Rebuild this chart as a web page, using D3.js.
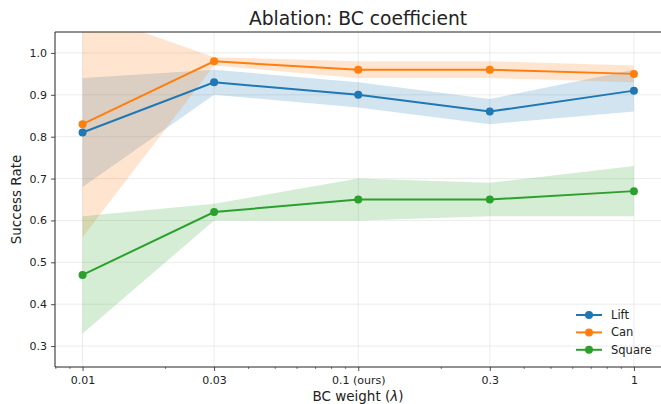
<!DOCTYPE html>
<html>
<head>
<meta charset="utf-8">
<script src="https://cdn.jsdelivr.net/npm/d3@7"></script>
<style>
  body { margin: 0; background: #fff; }
  text { font-family: "DejaVu Sans", sans-serif; fill: #222; }
</style>
</head>
<body>
<div id="main"></div>
<script>
// chart data
var weights = [0.01, 0.03, 0.1, 0.3, 1];
var tickLabels = ["0.01", "0.03", "0.1 (ours)", "0.3", "1"];
var seriesNames = ["Lift", "Can", "Square"];
var liftMean = [0.81, 0.93, 0.90, 0.86, 0.91];
var liftLow  = [0.68, 0.90, 0.87, 0.83, 0.86];
var liftHigh = [0.94, 0.96, 0.93, 0.89, 0.96];
var canMean  = [0.83, 0.98, 0.96, 0.96, 0.95];
var canLow   = [0.56, 0.97, 0.94, 0.94, 0.93];
var canHigh  = [1.10, 0.99, 0.98, 0.98, 0.97];
var squareMean = [0.47, 0.62, 0.65, 0.65, 0.67];
var squareLow  = [0.33, 0.60, 0.60, 0.61, 0.61];
var squareHigh = [0.61, 0.64, 0.70, 0.69, 0.73];
var yTicks = [0.3, 0.4, 0.5, 0.6, 0.7, 0.8, 0.9, 1.0];

var ctx = {
    w: 661,
    h: 404,
    left: 55,
    top: 32,
    bottom: 367,
    colors: ["#1f77b4", "#ff7f0e", "#2ca02c"],
};

var createChart = function(svg){
    var series = [
        {name: seriesNames[0], mean: liftMean, low: liftLow, high: liftHigh},
        {name: seriesNames[1], mean: canMean, low: canLow, high: canHigh},
        {name: seriesNames[2], mean: squareMean, low: squareLow, high: squareHigh},
    ];

    // log x with 5% margins like matplotlib (-2.1 .. 0.1 in decades)
    var x = d3.scaleLog()
              .domain([Math.pow(10, -2.1), Math.pow(10, 0.1)])
              .range([ctx.left, 661.5]);
    var y = d3.scaleLinear()
              .domain([0.25, 1.05])
              .range([ctx.bottom, ctx.top]);

    svg.append("clipPath").attr("id", "plot-clip")
       .append("rect")
       .attr("x", ctx.left).attr("y", ctx.top)
       .attr("width", ctx.w - ctx.left).attr("height", ctx.bottom - ctx.top);

    // grid
    var grid = svg.append("g").attr("stroke", "#b0b0b0").attr("stroke-opacity", 0.3).attr("stroke-width", 0.8);
    grid.selectAll("line.gx").data(weights).enter().append("line")
        .attr("x1", function(d){ return x(d); }).attr("x2", function(d){ return x(d); })
        .attr("y1", ctx.top).attr("y2", ctx.bottom);
    grid.selectAll("line.gy").data(yTicks).enter().append("line")
        .attr("x1", ctx.left).attr("x2", ctx.w)
        .attr("y1", function(d){ return y(d); }).attr("y2", function(d){ return y(d); });

    var plot = svg.append("g").attr("clip-path", "url(#plot-clip)");

    // bands first
    var area = d3.area()
                 .x(function(d){ return x(d.w); })
                 .y0(function(d){ return y(d.lo); })
                 .y1(function(d){ return y(d.hi); });
    series.forEach(function(s, i){
        var pts = weights.map(function(w, j){ return {w: w, lo: s.low[j], hi: s.high[j]}; });
        plot.append("path").datum(pts)
            .attr("d", area)
            .attr("fill", ctx.colors[i])
            .attr("fill-opacity", 0.2);
    });

    // lines + markers
    var line = d3.line()
                 .x(function(d){ return x(d.w); })
                 .y(function(d){ return y(d.v); });
    series.forEach(function(s, i){
        var pts = weights.map(function(w, j){ return {w: w, v: s.mean[j]}; });
        plot.append("path").datum(pts)
            .attr("d", line)
            .attr("fill", "none")
            .attr("stroke", ctx.colors[i])
            .attr("stroke-width", 2);
        plot.selectAll("circle.s" + i).data(pts).enter().append("circle")
            .attr("cx", function(d){ return x(d.w); })
            .attr("cy", function(d){ return y(d.v); })
            .attr("r", 4)
            .attr("fill", ctx.colors[i]);
    });

    // axes
    var xAxis = d3.axisBottom(x)
                  .tickValues(weights)
                  .tickFormat(function(d, i){ return tickLabels[i]; })
                  .tickSize(4).tickPadding(5);
    var gx = svg.append("g").attr("transform", "translate(0," + ctx.bottom + ")").call(xAxis);
    gx.select(".domain").remove();
    gx.selectAll("text").style("font-size", "11px").attr("fill", "#222");
    gx.selectAll("line").attr("stroke", "#222").attr("stroke-width", 0.8);

    // minor ticks of the log axis
    var minor = [0.008, 0.009, 0.02, 0.04, 0.05, 0.06, 0.07, 0.08, 0.09,
                 0.2, 0.4, 0.5, 0.6, 0.7, 0.8, 0.9];
    svg.append("g").selectAll("line").data(minor).enter().append("line")
       .attr("x1", function(d){ return x(d); }).attr("x2", function(d){ return x(d); })
       .attr("y1", ctx.bottom).attr("y2", ctx.bottom + 2)
       .attr("stroke", "#222").attr("stroke-width", 0.6);

    var yAxis = d3.axisLeft(y)
                  .tickValues(yTicks)
                  .tickFormat(d3.format(".1f"))
                  .tickSize(4).tickPadding(4);
    var gy = svg.append("g").attr("transform", "translate(" + ctx.left + ",0)").call(yAxis);
    gy.select(".domain").remove();
    gy.selectAll("text").style("font-size", "11px").attr("fill", "#222");
    gy.selectAll("line").attr("stroke", "#222").attr("stroke-width", 0.8);

    // spines: left, top, bottom (right edge falls outside the window)
    svg.append("path")
       .attr("d", "M" + ctx.w + "," + ctx.top + "H" + ctx.left + "V" + ctx.bottom + "H" + ctx.w)
       .attr("fill", "none").attr("stroke", "#222").attr("stroke-width", 1);

    // title & labels
    svg.append("text")
       .attr("x", 358).attr("y", 25)
       .attr("text-anchor", "middle")
       .style("font-size", "18.7px")
       .text("Ablation: BC coefficient");

    var xl = svg.append("text")
       .attr("x", 358).attr("y", 401)
       .attr("text-anchor", "middle")
       .style("font-size", "13.5px");
    xl.append("tspan").text("BC weight (");
    xl.append("tspan").style("font-style", "italic").text("λ");
    xl.append("tspan").text(")");

    svg.append("text")
       .attr("transform", "translate(21,199.5) rotate(-90)")
       .attr("text-anchor", "middle")
       .style("font-size", "13.5px")
       .text("Success Rate");

    // legend (no frame)
    var legend = svg.append("g");
    series.forEach(function(s, i){
        var ly = 315 + i * 17.4;
        legend.append("line")
              .attr("x1", 576).attr("x2", 602)
              .attr("y1", ly).attr("y2", ly)
              .attr("stroke", ctx.colors[i]).attr("stroke-width", 2);
        legend.append("circle")
              .attr("cx", 589).attr("cy", ly).attr("r", 4)
              .attr("fill", ctx.colors[i]);
        legend.append("text")
              .attr("x", 611).attr("y", ly + 4)
              .style("font-size", "11.5px")
              .text(s.name);
    });
};

var createViz = function(){
    var svgEl = d3.select("#main").append("svg");
    svgEl.attr("width", ctx.w);
    svgEl.attr("height", ctx.h);
    createChart(svgEl);
};

createViz();
</script>
</body>
</html>
